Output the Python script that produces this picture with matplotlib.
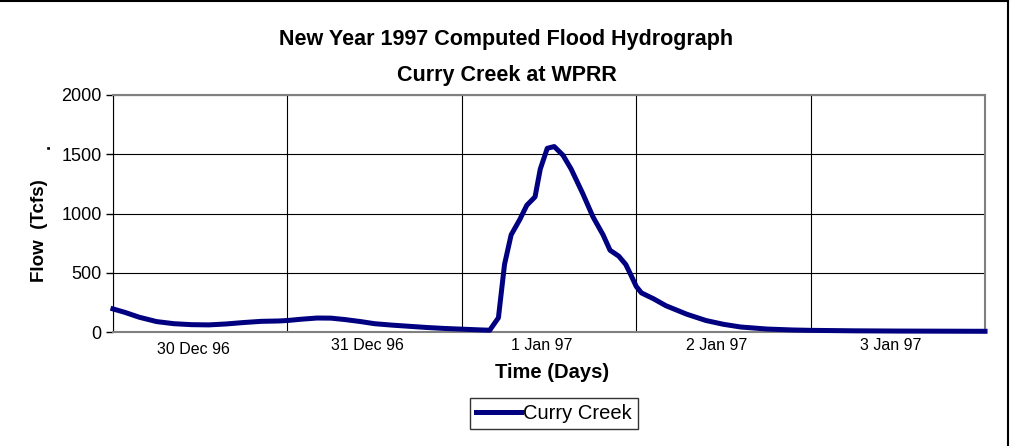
import matplotlib.pyplot as plt
from matplotlib.lines import Line2D
from matplotlib.transforms import ScaledTranslation

plt.rcParams['font.family'] = ['Liberation Sans', 'DejaVu Sans']

# time in days from start of 30 Dec 96, flow in Tcfs
days = [0.00, 0.07, 0.15, 0.25, 0.35, 0.45, 0.55, 0.65, 0.75, 0.85, 0.95,
        1.00, 1.08, 1.17, 1.25, 1.33, 1.42, 1.50, 1.60, 1.70, 1.80, 1.90,
        2.00, 2.10, 2.16, 2.21, 2.245, 2.283, 2.331, 2.373, 2.42, 2.45,
        2.49, 2.53, 2.58, 2.627, 2.694, 2.752, 2.81, 2.85, 2.90, 2.94,
        2.97, 3.00, 3.03, 3.10, 3.17, 3.29, 3.40, 3.50, 3.60, 3.75, 3.90,
        4.00, 4.25, 4.50, 4.75, 5.00]
flow = [195, 165, 125, 88, 70, 62, 60, 68, 80, 90, 93,
        97, 108, 118, 117, 105, 88, 70, 58, 48, 38, 30,
        24, 18, 15, 120, 570, 820, 945, 1070, 1140, 1375,
        1550, 1565, 1492, 1375, 1167, 972, 820, 690, 640, 570,
        480, 385, 330, 280, 222, 150, 97, 65, 42, 25, 17,
        14, 10, 8, 7, 6]

day_labels = ['30 Dec 96', '31 Dec 96', '1 Jan 97', '2 Jan 97', '3 Jan 97']

fig = plt.figure(figsize=(10.13, 4.46), dpi=100)
ax = fig.add_axes([0.1115, 0.2556, 0.8609, 0.5314])

ax.plot(days, flow, color='#000080', lw=3.6, label='Curry Creek',
        solid_joinstyle='round', clip_on=False, zorder=3)

ax.set_xlim(0, 5)
ax.set_ylim(0, 2000)
ax.set_yticks([0, 500, 1000, 1500, 2000])
ax.set_xticks(range(6))
ax.set_xticklabels([])
ax.set_xticks([i + 0.46 for i in range(5)], minor=True)
ax.set_xticklabels(day_labels, minor=True, fontsize=11.5)
ax.tick_params(axis='x', which='both', length=0, pad=4)
ax.tick_params(axis='y', length=5, width=1, labelsize=13, pad=3)

# first day label sits a little lower than the rest
first = ax.get_xticklabels(minor=True)[0]
first.set_transform(first.get_transform()
                    + ScaledTranslation(0, -3 / 72, fig.dpi_scale_trans))

ax.grid(True, which='major', color='black', lw=0.8)
for side in ['top', 'right', 'bottom']:
    ax.spines[side].set_color('#808080')
    ax.spines[side].set_linewidth(1.5)
ax.spines['left'].set_color('black')

fig.text(552 / 1013, 1 - 373 / 446, 'Time (Days)', fontsize=14.5,
         fontweight='bold', ha='center', va='center')
fig.text(40 / 1013, 1 - 231 / 446, 'Flow  (Tcfs)', fontsize=13.5,
         fontweight='bold', rotation=90, ha='center', va='center')
fig.text(0.0444, 0.672, '.', fontsize=13, fontweight='bold',
         rotation=90, ha='center', va='center')

fig.text(0.5, 1 - 39 / 446, 'New Year 1997 Computed Flood Hydrograph',
         fontsize=15.5, fontweight='bold', ha='center', va='center')
fig.text(0.5, 1 - 75 / 446, 'Curry Creek at WPRR',
         fontsize=15.5, fontweight='bold', ha='center', va='center')

leg = fig.legend(loc='center', bbox_to_anchor=(554 / 1013, 1 - 413.5 / 446),
                 fontsize=14.5, frameon=True, fancybox=False,
                 edgecolor='black', handlelength=2.2, handletextpad=0.1,
                 borderpad=0.3, borderaxespad=0)
leg.get_frame().set_linewidth(1.0)

# frame lines along the top and right of the figure
fig.add_artist(Line2D([0, 1008 / 1013], [0.998, 0.998], color='black', lw=1.5))
fig.add_artist(Line2D([1008 / 1013, 1008 / 1013], [0, 0.998], color='black', lw=1.5))

fig.savefig('out.png', dpi=100, facecolor='white')
